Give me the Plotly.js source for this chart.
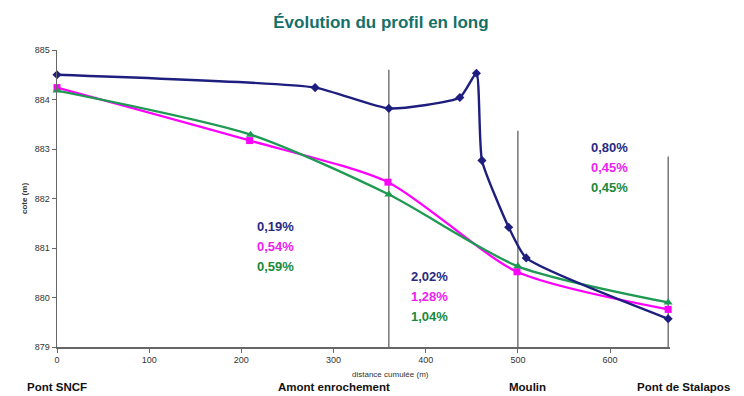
<!DOCTYPE html>
<html><head><meta charset="utf-8">
<script src="https://cdn.plot.ly/plotly-3.0.1.min.js"></script>
<style>html,body{margin:0;padding:0;background:#fff}</style>
</head><body><div id="chart" style="width:744px;height:396px"></div>
<script>
// Data
const blueX = [0, 280, 360, 437, 455, 461, 490, 509, 663];
const blueY = [884.5, 884.24, 883.82, 884.04, 884.53, 882.77, 881.42, 880.80, 879.57];
const pinkX = [0, 209, 359, 499, 663];
const pinkY = [884.24, 883.17, 882.33, 880.52, 879.76];
const greenX = [0, 210, 360, 500, 663];
const greenY = [884.18, 883.29, 882.08, 880.63, 879.90];
const dividerX = [360, 500, 663];
const dividerTop = [884.6, 883.37, 882.85];
const siteNames = ["Pont SNCF", "Amont enrochement", "Moulin", "Pont de Stalapos"];
const siteX = [0, 300, 510, 680];
const slopeBlue = ["0,19%", "2,02%", "0,80%"];
const slopePink = ["0,54%", "1,28%", "0,45%"];
const slopeGreen = ["0,59%", "1,04%", "0,45%"];
const slopeX = [215, 382, 577];
const slopeY = [881.43, 880.42, 883.04];

const NAVY = "#1e1e7e", PINK = "#ff00ff", GREEN = "#1f9a52";
const TNAVY = "#2a2a82", TPINK = "#ee22ee", TGREEN = "#1a8a3c";
const FONT = "Liberation Sans, Arial, sans-serif";

const traces = [];
dividerX.forEach((x, i) => {
  traces.push({x: [x, x], y: [879, dividerTop[i]], mode: "lines",
    line: {color: "#555555", width: 1.2}, hoverinfo: "skip", showlegend: false, cliponaxis: false});
});
traces.push({x: pinkX, y: pinkY, mode: "lines+markers", line: {color: PINK, width: 2.3, shape: "spline", smoothing: 0.7},
  marker: {symbol: "square", size: 7, color: PINK}, showlegend: false, cliponaxis: false});
traces.push({x: greenX, y: greenY, mode: "lines+markers", line: {color: GREEN, width: 2.3, shape: "spline", smoothing: 0.7},
  marker: {symbol: "triangle-up", size: 8, color: GREEN}, showlegend: false, cliponaxis: false});
traces.push({x: blueX, y: blueY, mode: "lines+markers", line: {color: NAVY, width: 2.4, shape: "spline", smoothing: 0.5},
  marker: {symbol: "diamond", size: 7, color: NAVY}, showlegend: false, cliponaxis: false});

const xa0 = 0, xa1 = 665;
const toPaper = (x) => (x - xa0) / (xa1 - xa0);

const annotations = [];
slopeX.forEach((x, i) => {
  const y0 = slopeY[i];
  const step = 0.405;
  [[slopeBlue[i], TNAVY], [slopePink[i], TPINK], [slopeGreen[i], TGREEN]].forEach(([t, c], k) => {
    annotations.push({x: x, y: y0 - k * step, xref: "x", yref: "y", text: "<b>" + t + "</b>", showarrow: false,
      xanchor: "left", yanchor: "middle", font: {family: FONT, size: 13, color: c}});
  });
});
siteNames.forEach((n, i) => {
  annotations.push({x: toPaper(siteX[i]), y: -0.133, xref: "paper", yref: "paper", text: "<b>" + n + "</b>", showarrow: false,
    xanchor: "center", yanchor: "middle", font: {family: FONT, size: 11.5, color: "#111"}});
});
annotations.push({x: toPaper(362), y: -0.094, xref: "paper", yref: "paper", text: "distance cumulée (m)", showarrow: false,
  xanchor: "center", yanchor: "middle", font: {family: FONT, size: 8, color: "#333"}});

const layout = {
  width: 744, height: 396,
  margin: {l: 57, r: 74, t: 50, b: 49},
  paper_bgcolor: "#ffffff", plot_bgcolor: "#ffffff",
  title: {text: "<b>Évolution du profil en long</b>", x: 0.512, xanchor: "center", y: 0.945, yanchor: "middle",
    font: {family: FONT, size: 17, color: "#14706a"}},
  xaxis: {range: [xa0, xa1], tickvals: [0, 100, 200, 300, 400, 500, 600], showgrid: false, zeroline: false,
    showline: true, linecolor: "#666", linewidth: 1.5, ticks: "outside", ticklen: 4, tickcolor: "#666",
    tickfont: {family: FONT, size: 9, color: "#333"}},
  yaxis: {range: [879, 885], dtick: 1, showgrid: false, zeroline: false,
    showline: true, linecolor: "#666", linewidth: 1.5, ticks: "outside", ticklen: 4, tickcolor: "#666",
    tickfont: {family: FONT, size: 9, color: "#333"},
    title: {text: "<b>cote (m)</b>", standoff: 6, font: {family: FONT, size: 8, color: "#333"}}},
  annotations: annotations,
  showlegend: false
};
Plotly.newPlot("chart", traces, layout, {displayModeBar: false, staticPlot: true});
</script></body></html>
